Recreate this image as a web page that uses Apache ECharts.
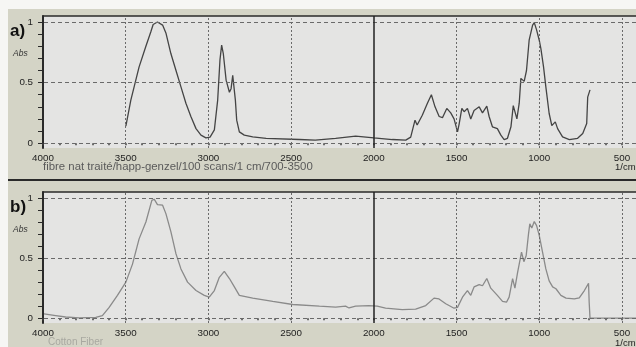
<!DOCTYPE html>
<html>
<head>
<meta charset="utf-8">
<script src="https://cdn.jsdelivr.net/npm/echarts@6/dist/echarts.min.js"></script>
<style>
html,body{margin:0;padding:0;background:#f6f6f4;}
#chart{width:636px;height:347px;}
</style>
</head>
<body>
<div id="chart"></div>
<script>
// ---- data (wavenumber cm-1, absorbance) ----
const wavenumbersA = [3499,3469,3439,3419,3378,3348,3334,3308,3277,3257,3227,3196,3166,3136,3106,3075,3045,3015,2990,2964,2944,2930,2920,2910,2893,2873,2863,2853,2847,2837,2829,2813,2783,2732,2651,2450,2354,2231,2110,2000,1888,1807,1777,1751,1738,1707,1676,1652,1630,1605,1585,1559,1535,1515,1494,1484,1468,1454,1434,1414,1394,1363,1343,1317,1303,1283,1253,1232,1212,1192,1171,1157,1145,1135,1121,1111,1091,1077,1061,1040,1030,1016,1000,990,974,960,940,924,903,889,859,818,768,737,713,707,693];
const absA = [0.14,0.355,0.52,0.63,0.80,0.92,0.98,1.0,0.975,0.91,0.74,0.60,0.465,0.33,0.22,0.12,0.066,0.044,0.05,0.11,0.355,0.69,0.81,0.74,0.52,0.42,0.45,0.56,0.55,0.355,0.19,0.093,0.066,0.052,0.039,0.03,0.025,0.04,0.058,0.044,0.03,0.025,0.05,0.19,0.15,0.23,0.33,0.40,0.30,0.22,0.21,0.287,0.25,0.20,0.093,0.16,0.287,0.26,0.287,0.20,0.27,0.30,0.25,0.306,0.22,0.135,0.12,0.066,0.03,0.04,0.135,0.31,0.25,0.20,0.33,0.535,0.51,0.60,0.85,0.975,0.995,0.935,0.85,0.78,0.63,0.465,0.245,0.145,0.176,0.12,0.052,0.03,0.04,0.08,0.163,0.38,0.44];

const wavenumbersB = [3994,3923,3863,3782,3681,3641,3600,3550,3499,3459,3419,3378,3342,3328,3308,3277,3257,3227,3196,3166,3126,3075,3025,2995,2964,2934,2904,2873,2843,2813,2732,2611,2490,2329,2231,2171,2150,2110,2030,1980,1929,1828,1747,1686,1636,1606,1565,1515,1494,1464,1434,1414,1394,1363,1343,1317,1293,1253,1222,1198,1182,1161,1147,1131,1117,1107,1093,1079,1065,1057,1045,1030,1016,1000,980,960,940,919,899,869,838,788,758,727,702,698,693,415];
const absB = [0.036,0.022,0.01,0.003,0.006,0.022,0.09,0.19,0.30,0.45,0.66,0.80,0.98,0.99,0.945,0.94,0.87,0.72,0.535,0.41,0.30,0.23,0.19,0.175,0.23,0.34,0.39,0.33,0.26,0.19,0.167,0.14,0.114,0.10,0.092,0.10,0.085,0.10,0.105,0.10,0.083,0.072,0.075,0.105,0.167,0.16,0.12,0.083,0.09,0.175,0.23,0.19,0.26,0.28,0.27,0.33,0.25,0.19,0.14,0.133,0.175,0.33,0.25,0.38,0.48,0.55,0.47,0.52,0.70,0.785,0.75,0.805,0.77,0.69,0.55,0.41,0.31,0.26,0.245,0.19,0.167,0.16,0.17,0.23,0.29,0.13,0,0];

const xTickLabels = [4000,3500,3000,2500,2000,1500,1000,500];
const xMinorTicks = [4000,3900,3800,3700,3600,3500,3400,3300,3200,3100,3000,2900,2800,2700,2600,2500,2400,2300,2200,2100,2000,1900,1800,1700,1600,1500,1400,1300,1200,1100,1000,900,800,700,600,500];
const xDashedGrid = [3500,3000,2500,1500,1000,500];
const xSolidLine = 2000;
const yMajorTicks = [0,0.5,1];
const yMinorTicks = [0,0.1,0.2,0.3,0.4,0.5,0.6,0.7,0.8,0.9,1];
const panelLabels = ['a)','b)'];
const subtitles = ['fibre nat traité/happ-genzel/100 scans/1 cm/700-3500','Cotton Fiber'];
const unitLabel = '1/cm';
const yName = 'Abs';

const pairs = (xs, ys) => xs.map((x, i) => [x, ys[i]]);

const FONT = 'Liberation Sans';
const AX = '#2a2a2a';
const GRIDC = '#6a6a6a';
const grids = [
  {left:43, top:16, right:0, height:132},
  {left:43, top:192, right:0, height:131}
];
const X_MIN = 415, X_MAX = 4000, Y_MIN = -0.04, Y_MAX = 1.05;

function xBottom(gi){
  return {
    type:'value', gridIndex:gi, inverse:true, min:X_MIN, max:X_MAX,
    axisLine:{show:false},
    axisTick:{show:true, length:2, customValues:xMinorTicks, lineStyle:{color:'#444', width:1.5}},
    axisLabel:{show:true, margin:5, fontSize:9.8, fontFamily:FONT, color:'#1e1e1e',
      customValues:xTickLabels, formatter:v => String(v)},
    splitLine:{show:false}
  };
}
function xTop(gi){
  return {
    type:'value', gridIndex:gi, inverse:true, min:X_MIN, max:X_MAX, position:'top',
    axisLine:{show:true, lineStyle:{color:AX, width:1.5}},
    axisTick:{show:false}, axisLabel:{show:false}, splitLine:{show:false}
  };
}
function yAxisFor(gi){
  return {
    type:'value', gridIndex:gi, min:Y_MIN, max:Y_MAX,
    axisLine:{show:true, lineStyle:{color:AX, width:2}},
    axisTick:{show:true, length:5, customValues:yMinorTicks, lineStyle:{color:AX, width:1}},
    axisLabel:{show:true, margin:10, fontSize:9.8, fontFamily:FONT, color:'#1e1e1e',
      customValues:yMajorTicks, formatter:v => String(v)},
    splitLine:{show:false}
  };
}
function guideLines(){
  const hdash = {color:GRIDC, type:[4,3], width:1};
  const vdash = {color:GRIDC, type:[2,2], width:1};
  const data = [];
  yMajorTicks.forEach(v => data.push({yAxis:v, lineStyle:hdash}));
  xDashedGrid.forEach(v => data.push({xAxis:v, lineStyle:vdash}));
  data.push({xAxis:xSolidLine, lineStyle:{color:'#222', type:'solid', width:1.5}});
  return {silent:true, symbol:['none','none'], label:{show:false}, animation:false, data:data};
}
function txt(text, left, top, style){
  return {text:text, left:left, top:top, padding:0,
    textStyle:Object.assign({fontFamily:FONT, fontWeight:'normal', color:'#222'}, style)};
}

const chart = echarts.init(document.getElementById('chart'), null, {renderer:'canvas'});
chart.setOption({
  animation:false,
  backgroundColor:'#f6f6f4',
  graphic:[
    {type:'rect', z:-10, shape:{x:8, y:9, width:640, height:340}, style:{fill:'#d4d4c6'}},
    {type:'rect', z:-10, shape:{x:8, y:179, width:640, height:2}, style:{fill:'#2a2a2a'}}
  ],
  title:[
    txt(panelLabels[0], 10, 23, {fontSize:17, fontWeight:'bold', color:'#111'}),
    txt(panelLabels[1], 10, 199, {fontSize:17, fontWeight:'bold', color:'#111'}),
    txt(yName, 13, 49, {fontSize:8.5, fontStyle:'italic', color:'#333'}),
    txt(yName, 13, 225, {fontSize:8.5, fontStyle:'italic', color:'#333'}),
    txt(subtitles[0], 43, 161, {fontSize:11.4, color:'#5a5a5a'}),
    txt(subtitles[1], 48, 337, {fontSize:10, color:'#a8a8a0'}),
    txt(unitLabel, 615, 162, {fontSize:9.5}),
    txt(unitLabel, 615, 338, {fontSize:9.5})
  ],
  grid:grids.map(g => Object.assign({show:true, backgroundColor:'#e4e4e3', borderWidth:0, containLabel:false}, g)),
  xAxis:[xBottom(0), xTop(0), xBottom(1), xTop(1)],
  yAxis:[yAxisFor(0), yAxisFor(1)],
  series:[
    {type:'line', xAxisIndex:0, yAxisIndex:0, data:pairs(wavenumbersA, absA), showSymbol:false,
      lineStyle:{color:'#444444', width:1.3}, markLine:guideLines()},
    {type:'line', xAxisIndex:2, yAxisIndex:1, data:pairs(wavenumbersB, absB), showSymbol:false,
      lineStyle:{color:'#8a8a8a', width:1.3}, markLine:guideLines()}
  ]
});
</script>
</body>
</html>
